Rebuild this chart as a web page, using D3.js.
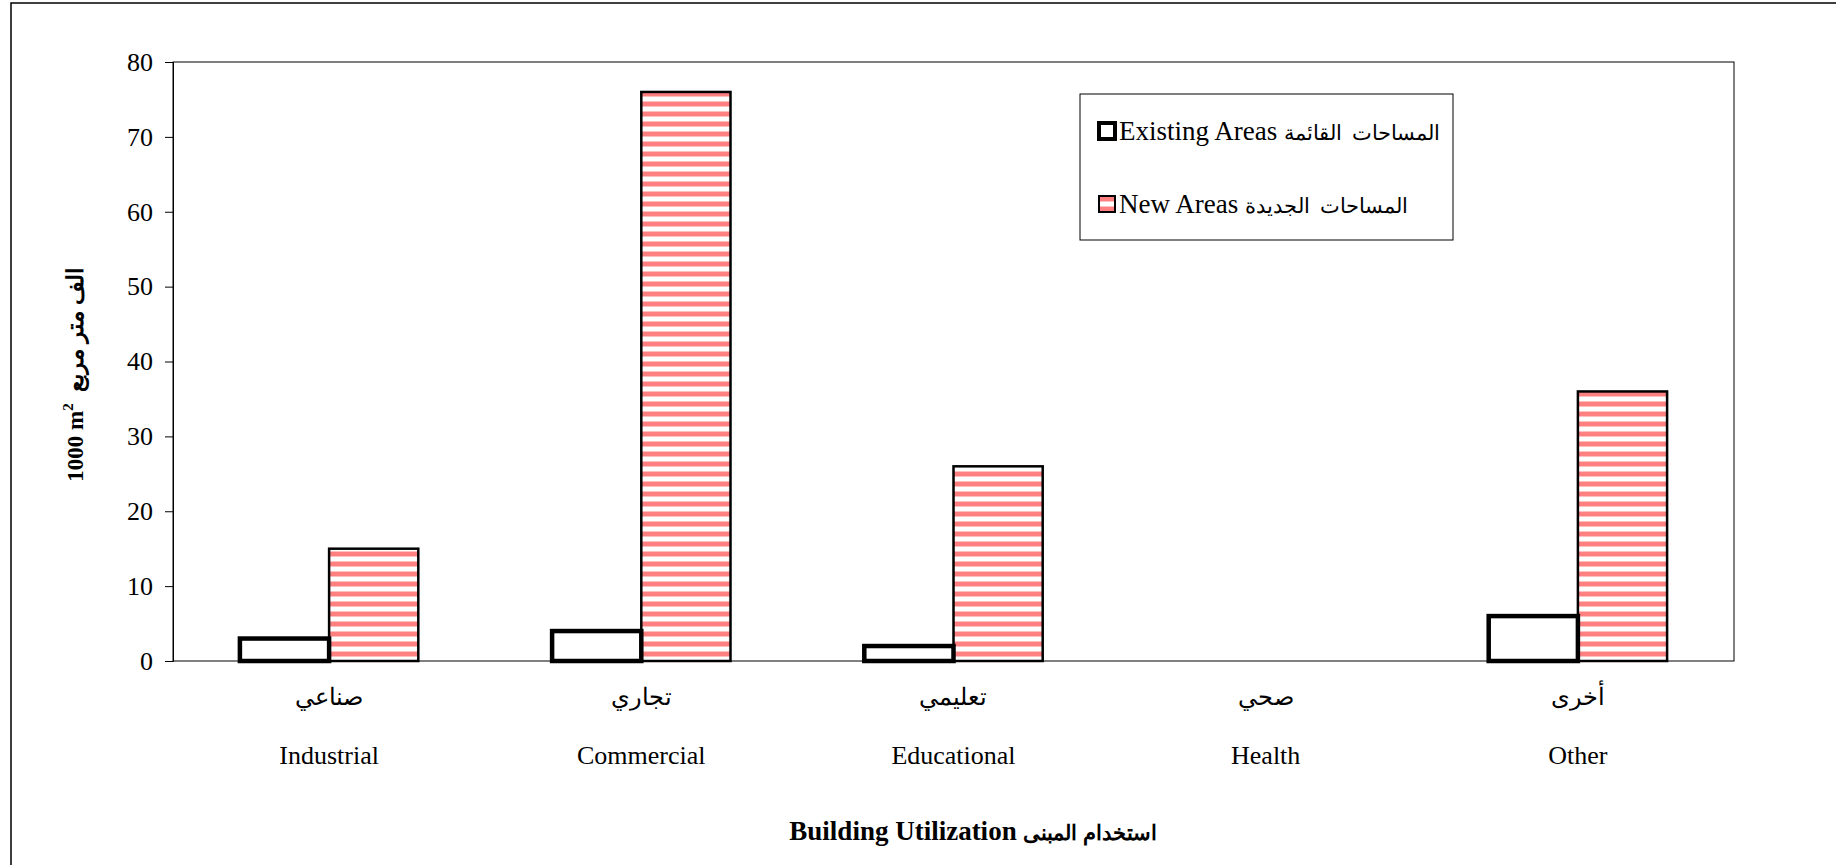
<!DOCTYPE html>
<html>
<head>
<meta charset="utf-8">
<script src="https://cdn.jsdelivr.net/npm/d3@7"></script>
<style>
    body { margin: 0; background: #fff; }
    svg text { font-family: "Liberation Serif", "Times New Roman", serif; fill: #000; white-space: pre; }
</style>
</head>
<body>
<div id="chart"></div>
<script>
// Data -----------------------------------------------------------------------
var categories = ["Industrial", "Commercial", "Educational", "Health", "Other"];
var categoriesAr = ["صناعي", "تجاري", "تعليمي", "صحي", "أخرى"];
var existingAreas = [3, 4, 2, 0, 6];
var newAreas = [15, 76, 26, 0, 36];
var seriesNames = ["existing", "new"];
var seriesLabels = ["Existing Areas", "New Areas"];
var seriesLabelsAr = ["المساحات  القائمة", "المساحات  الجديدة"];
var yTicks = [0, 10, 20, 30, 40, 50, 60, 70, 80];

// Dimensions -----------------------------------------------------------------
var W = 1836, H = 865;
var margin = { top: 62, right: 102, bottom: 204, left: 173 },
    width = W - margin.left - margin.right,
    height = H - margin.top - margin.bottom;

var svg = d3.select("#chart").append("svg")
    .attr("width", W)
    .attr("height", H);

// outer frame (right and bottom edges fall off the page)
svg.append("rect")
    .attr("x", 11).attr("y", 3)
    .attr("width", W + 20).attr("height", H + 20)
    .attr("fill", "none")
    .attr("stroke", "#000")
    .attr("stroke-width", 1.5);

// stripe pattern for new areas
var defs = svg.append("defs");
var pat = defs.append("pattern")
    .attr("id", "stripes")
    .attr("patternUnits", "userSpaceOnUse")
    .attr("width", 10).attr("height", 10);
pat.append("rect").attr("width", 10).attr("height", 10).attr("fill", "#fff");
pat.append("rect").attr("y", 0).attr("width", 10).attr("height", 4).attr("fill", "#ff8080");
pat.append("rect").attr("y", 4).attr("width", 10).attr("height", 1).attr("fill", "#ffc0c0");
pat.append("rect").attr("y", 9).attr("width", 10).attr("height", 1).attr("fill", "#ffc0c0");

var g = svg.append("g")
    .attr("transform", "translate(" + margin.left + "," + margin.top + ")");

// Scales ---------------------------------------------------------------------
var x0 = d3.scaleBand()
    .domain(categories)
    .range([0, width]);
var x1 = d3.scaleBand()
    .domain(seriesNames)
    .range([0, x0.bandwidth()])
    .paddingOuter(0.75);
var y = d3.scaleLinear()
    .domain([0, 80])
    .range([height, 0]);

// plot area border
g.append("rect")
    .attr("width", width).attr("height", height)
    .attr("fill", "none")
    .attr("stroke", "#000")
    .attr("stroke-width", 1);

// Y axis
var yAxis = g.append("g")
    .call(d3.axisLeft(y).tickValues(yTicks).tickSize(8).tickPadding(12));
yAxis.select(".domain").attr("stroke", "#000");
yAxis.selectAll(".tick line").attr("stroke", "#000");
yAxis.selectAll("text")
    .attr("font-family", "Liberation Serif")
    .attr("font-size", 26)
    .attr("fill", "#000");

// Bars -----------------------------------------------------------------------
var rows = categories.map(function(c, i) {
    return { cat: c, existing: existingAreas[i], new: newAreas[i] };
});

var groups = g.selectAll(".grp")
    .data(rows)
    .enter().append("g")
    .attr("class", "grp")
    .attr("transform", function(d) { return "translate(" + x0(d.cat) + ",0)"; });

groups.filter(function(d) { return d.new > 0; })
    .append("rect")
    .attr("x", x1("new"))
    .attr("width", x1.bandwidth())
    .attr("y", function(d) { return y(d.new); })
    .attr("height", function(d) { return height - y(d.new); })
    .attr("fill", "url(#stripes)")
    .attr("stroke", "#000")
    .attr("stroke-width", 2.5);

groups.filter(function(d) { return d.existing > 0; })
    .append("rect")
    .attr("x", x1("existing"))
    .attr("width", x1.bandwidth())
    .attr("y", function(d) { return y(d.existing); })
    .attr("height", function(d) { return height - y(d.existing); })
    .attr("fill", "#fff")
    .attr("stroke", "#000")
    .attr("stroke-width", 4.5);

// Category labels
groups.append("text")
    .attr("x", x0.bandwidth() / 2)
    .attr("y", height + 44)
    .attr("text-anchor", "middle")
    .attr("font-size", 24)
    .text(function(d, i) { return categoriesAr[i]; });

groups.append("text")
    .attr("x", x0.bandwidth() / 2)
    .attr("y", height + 103)
    .attr("text-anchor", "middle")
    .attr("font-size", 26)
    .text(function(d) { return d.cat; });

// Axis titles ----------------------------------------------------------------
var xTitle = svg.append("text")
    .attr("x", 973)
    .attr("y", 840)
    .attr("text-anchor", "middle")
    .attr("font-weight", "bold")
    .attr("direction", "ltr");
xTitle.append("tspan").attr("font-size", 27).text("Building Utilization ");
xTitle.append("tspan").attr("font-size", 21).text("استخدام المبنى");

var yTitle = svg.append("text")
    .attr("transform", "translate(83,375) rotate(-90)")
    .attr("text-anchor", "middle")
    .attr("font-size", 23)
    .attr("font-weight", "bold")
    .attr("direction", "ltr");
yTitle.append("tspan").text("1000 m");
yTitle.append("tspan").attr("font-size", 15).attr("dy", -10).text("2");
yTitle.append("tspan").attr("dy", 10).attr("font-size", 23).text("  الف متر مربع");

// Legend ---------------------------------------------------------------------
var legend = svg.append("g").attr("transform", "translate(1080,94)");
legend.append("rect")
    .attr("width", 373).attr("height", 146)
    .attr("fill", "#fff")
    .attr("stroke", "#000")
    .attr("stroke-width", 1);

var legendY = d3.scaleBand().domain(seriesNames).range([20, 166]);

var items = legend.selectAll(".item")
    .data(seriesNames)
    .enter().append("g")
    .attr("class", "item")
    .attr("transform", function(d) { return "translate(0," + legendY(d) + ")"; });

items.append("rect")
    .attr("x", 19).attr("y", 9)
    .attr("width", 16).attr("height", 16)
    .attr("fill", function(d) { return d == "new" ? "url(#stripes)" : "#fff"; })
    .attr("stroke", "#000")
    .attr("stroke-width", function(d) { return d == "new" ? 2 : 4; });

var legText = items.append("text")
    .attr("x", 39).attr("y", 26)
    .attr("direction", "ltr");
legText.append("tspan")
    .attr("font-size", 27)
    .text(function(d, i) { return seriesLabels[i] + " "; });
legText.append("tspan")
    .attr("font-size", 21)
    .text(function(d, i) { return seriesLabelsAr[i]; });
</script>
</body>
</html>
